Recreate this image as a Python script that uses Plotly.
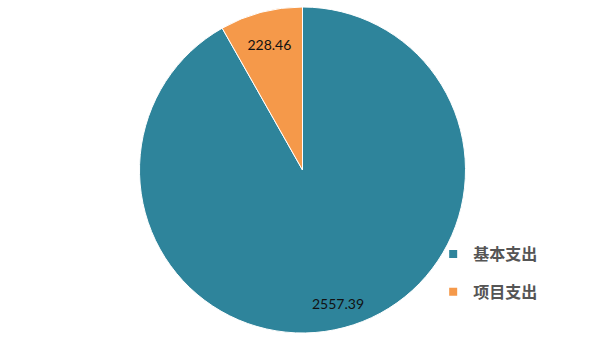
import math
import plotly.graph_objects as go

labels = ["基本支出", "项目支出"]
values = [2557.39, 228.46]
colors = ["#2E849B", "#F5994A"]

W, H = 605, 340
M_T, M_B = 7, 7
R_PX = (H - M_T - M_B) / 2
TEXT_FONT = dict(family="Lato, Noto Sans CJK SC", size=14, color="#111111")

fig = go.Figure()
fig.add_trace(go.Pie(
    labels=labels,
    values=values,
    sort=False,
    direction="clockwise",
    rotation=0,
    marker=dict(colors=colors, line=dict(color="white", width=1)),
    texttemplate=["", "%{value:.2f}"],
    textposition="inside",
    insidetextorientation="horizontal",
    textfont=TEXT_FONT,
    hoverinfo="label+value",
    showlegend=False,
))

# label of the large slice, placed along its mid angle (clockwise from 12 o'clock)
total = sum(values)
theta = math.radians(values[0] / 2 / total * 360)
rf = 0.845
fig.add_annotation(
    x=0.5 + rf * R_PX * math.sin(theta) / W,
    y=0.5 + rf * R_PX * math.cos(theta) / (H - M_T - M_B),
    xref="paper", yref="paper", xanchor="center", yanchor="middle",
    text=f"{values[0]:.2f}", showarrow=False,
    font=TEXT_FONT,
)

# legend entries
for lab, col in zip(labels, colors):
    fig.add_trace(go.Scatter(
        x=[None], y=[None], mode="markers", name=lab,
        legendgroup=lab,
        marker=dict(symbol="square", size=8, color=col),
        hoverinfo="skip",
    ))

fig.update_layout(
    width=W, height=H,
    margin=dict(l=0, r=0, t=M_T, b=M_B),
    paper_bgcolor="white",
    plot_bgcolor="white",
    xaxis=dict(visible=False),
    yaxis=dict(visible=False),
    showlegend=True,
    legend=dict(
        x=0.716, y=0.184, xanchor="left", yanchor="middle",
        font=dict(family="Noto Sans CJK SC", size=16, color="#555555", weight="bold"),
        tracegroupgap=14,
        bgcolor="rgba(0,0,0,0)",
    ),
)

fig.write_html("out.html")
